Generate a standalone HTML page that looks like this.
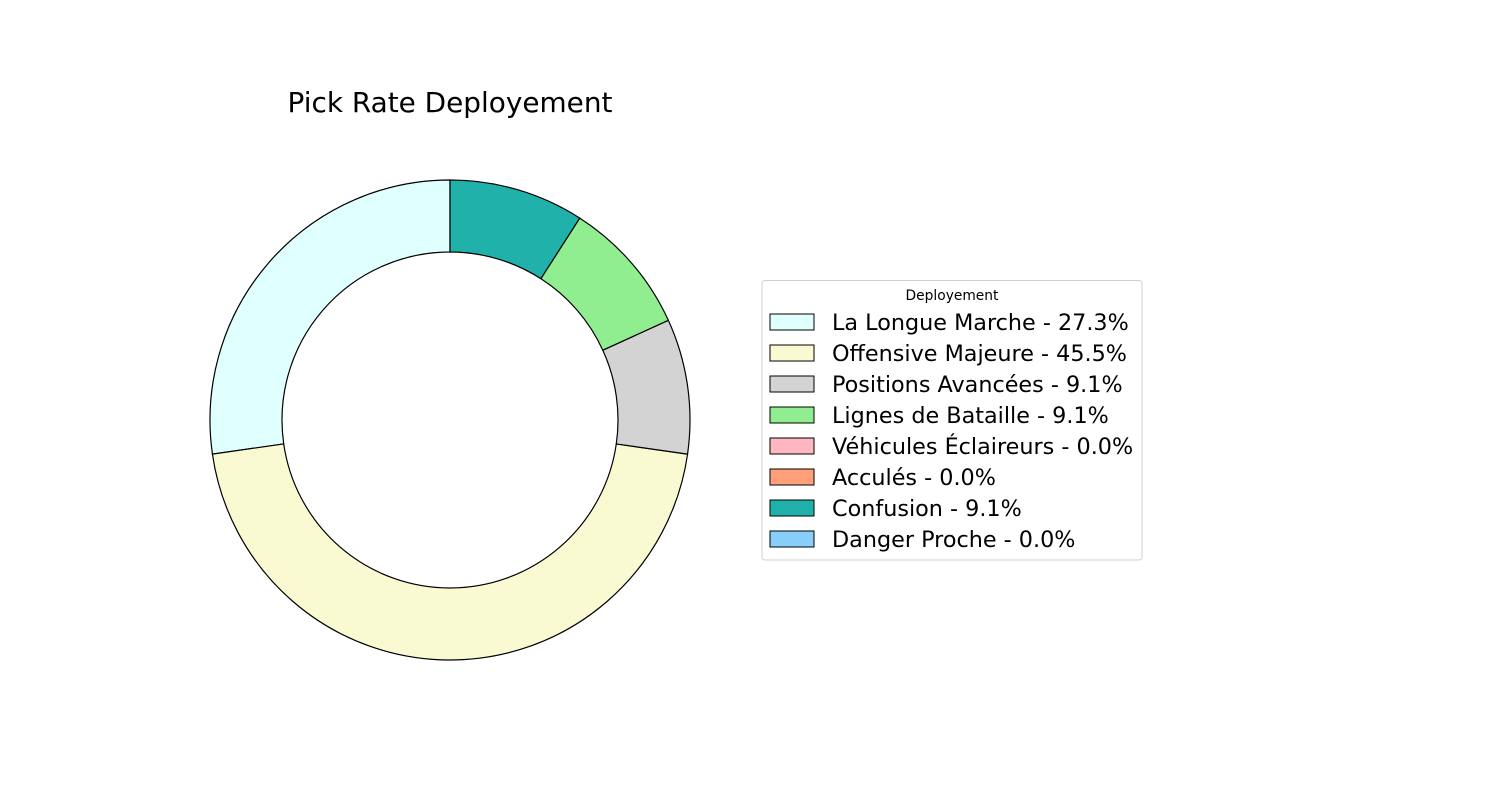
<!DOCTYPE html>
<html><head><meta charset="utf-8"><style>
body{margin:0;background:#fff;width:1500px;height:800px;overflow:hidden}
svg text{font-family:"DejaVu Sans","Liberation Sans",sans-serif}
</style></head><body>
<svg id="chart" width="1500" height="800" xmlns="http://www.w3.org/2000/svg">
<text x="450" y="112" text-anchor="middle" font-size="27.9" fill="#000">Pick Rate Deployement</text>
<g id="slices"></g>
<g id="legend">
<rect x="762" y="280.5" width="380" height="279.5" rx="3" fill="#fff" stroke="#d0d0d0" stroke-width="1"/>
<text x="952" y="300" text-anchor="middle" font-size="13.8" fill="#000">Deployement</text>
</g>
</svg>
<script>
const categories = ["La Longue Marche","Offensive Majeure","Positions Avancées","Lignes de Bataille","Véhicules Éclaireurs","Acculés","Confusion","Danger Proche"];
const values = [3,5,1,1,0,0,1,0];
const colors = ["#e0ffff","#fafad2","#d3d3d3","#90ee90","#ffb6c1","#ffa07a","#20b2aa","#87cefa"];
const NS="http://www.w3.org/2000/svg";
const cx=450, cy=420, R=240, r=168;
const total=values.reduce((a,b)=>a+b,0);
const slices=document.getElementById('slices');
const legend=document.getElementById('legend');
function pt(rad,a){return [cx+rad*Math.cos(a), cy-rad*Math.sin(a)];}
let start=Math.PI/2;
values.forEach((v,i)=>{
  const sweep=v/total*2*Math.PI;
  if(v>0){
    const end=start+sweep;
    const large=sweep>Math.PI?1:0;
    const [x1,y1]=pt(R,start),[x2,y2]=pt(R,end),[x3,y3]=pt(r,end),[x4,y4]=pt(r,start);
    const p=document.createElementNS(NS,'path');
    p.setAttribute('d',`M${x1},${y1} A${R},${R} 0 ${large} 0 ${x2},${y2} L${x3},${y3} A${r},${r} 0 ${large} 1 ${x4},${y4} Z`);
    p.setAttribute('fill',colors[i]);p.setAttribute('stroke','#000');p.setAttribute('stroke-width','1.2');
    
    
    slices.appendChild(p);
  }
  start+=sweep;
  const y=322+i*31;
  const rc=document.createElementNS(NS,'rect');
  rc.setAttribute('x',770);rc.setAttribute('y',y-8);rc.setAttribute('width',44);rc.setAttribute('height',16);
  rc.setAttribute('fill',colors[i]);rc.setAttribute('stroke','#000');rc.setAttribute('stroke-width','1');
  
  
  legend.appendChild(rc);
  const t=document.createElementNS(NS,'text');
  t.setAttribute('x',832);t.setAttribute('y',y+8);t.setAttribute('font-size','22.3');t.setAttribute('fill','#000');
  t.textContent=categories[i]+' - '+(v/total*100).toFixed(1)+'%';
  
  
  legend.appendChild(t);
});
</script>
</body></html>
